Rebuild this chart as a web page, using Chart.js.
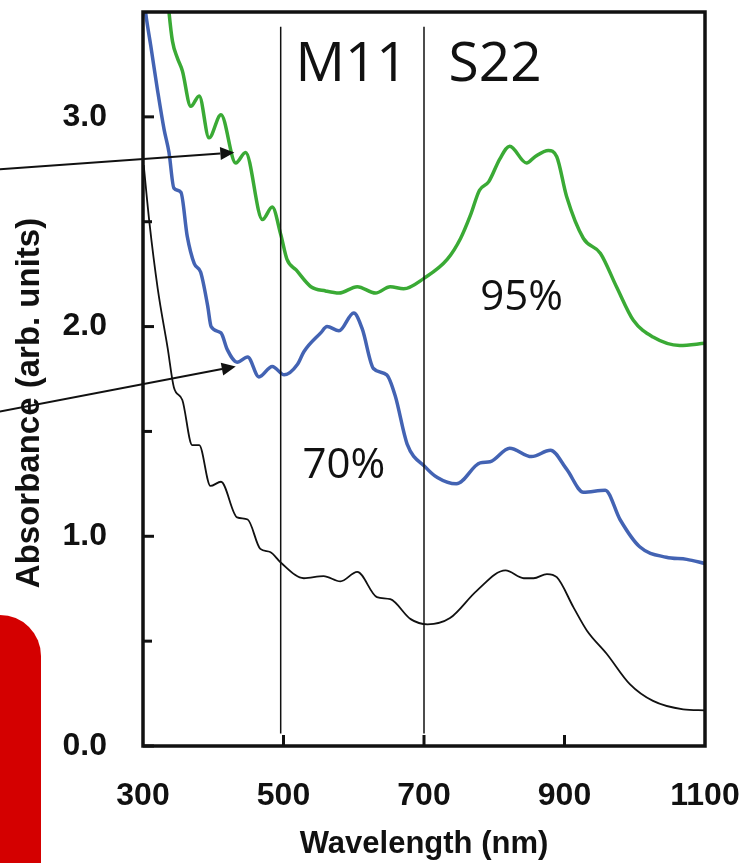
<!DOCTYPE html>
<html>
<head>
<meta charset="utf-8">
<script src="https://cdn.jsdelivr.net/npm/chart.js@4.4.1/dist/chart.umd.min.js"></script>
<style>
  html, body { margin: 0; padding: 0; background: #fff; }
  canvas { display: block; }
</style>
</head>
<body>
<canvas id="abs-chart" width="744" height="863"></canvas>
<script>
// absorbance spectra: wavelength (nm) / absorbance (arb. units)
var nm95  = [335, 337, 342, 349, 356, 368, 380, 394, 411, 432, 446, 470, 484, 496, 505, 518, 539, 560, 579, 605, 631, 652, 671, 700, 733, 752, 766, 779, 792, 808, 822, 846, 858, 877, 889, 903, 927, 951, 974, 998, 1026, 1064, 1100];
var abs95 = [3.58, 3.50, 3.36, 3.28, 3.22, 3.05, 3.10, 2.90, 3.01, 2.78, 2.83, 2.51, 2.57, 2.44, 2.32, 2.27, 2.19, 2.17, 2.16, 2.19, 2.16, 2.19, 2.18, 2.23, 2.32, 2.42, 2.53, 2.65, 2.69, 2.80, 2.86, 2.78, 2.81, 2.84, 2.81, 2.62, 2.42, 2.35, 2.19, 2.03, 1.95, 1.91, 1.92];

var nm70  = [302, 304, 311, 321, 330, 337, 344, 354, 363, 373, 382, 392, 397, 411, 420, 434, 449, 465, 484, 501, 520, 529, 553, 562, 579, 600, 612, 628, 647, 659, 676, 702, 719, 746, 780, 794, 822, 853, 880, 903, 927, 958, 979, 1007, 1045, 1074, 1100];
var abs70 = [3.55, 3.49, 3.34, 3.12, 2.94, 2.83, 2.66, 2.64, 2.43, 2.30, 2.26, 2.10, 2.00, 1.97, 1.89, 1.83, 1.855, 1.76, 1.81, 1.77, 1.82, 1.88, 1.97, 2.00, 1.98, 2.065, 1.99, 1.80, 1.77, 1.67, 1.44, 1.33, 1.28, 1.25, 1.35, 1.355, 1.42, 1.38, 1.41, 1.32, 1.21, 1.22, 1.08, 0.95, 0.90, 0.89, 0.87];

var nmRef  = [301, 309, 321, 335, 344, 356, 370, 380, 396, 411, 434, 449, 467, 481, 496, 529, 557, 581, 605, 633, 652, 681, 705, 737, 775, 816, 842, 856, 875, 889, 913, 932, 960, 993, 1026, 1069, 1100];
var absRef = [2.77, 2.50, 2.18, 1.90, 1.71, 1.65, 1.435, 1.435, 1.24, 1.26, 1.09, 1.08, 0.94, 0.925, 0.875, 0.80, 0.81, 0.785, 0.83, 0.71, 0.70, 0.605, 0.58, 0.61, 0.74, 0.837, 0.80, 0.80, 0.82, 0.805, 0.66, 0.55, 0.44, 0.295, 0.215, 0.175, 0.17];

var xTicks = [300, 500, 700, 900, 1100];
var yTicks = [0, 1, 2, 3];
var yMinorTicks = [0.5, 1.5, 2.5];
var bandEdges = [496, 700];

function pts(xs, ys) {
    return xs.map(function(v, i) { return { x: v, y: ys[i] }; });
}

var tickFont = "'Liberation Sans', Arial, sans-serif";
var noteFont = "'Open Sans', 'Noto Sans', sans-serif";

// annotations of the figure (data coordinates)
var notes = [
    { text: "M11", x: 517, y: 3.17, size: 55 },
    { text: "S22", x: 735, y: 3.17, size: 55 },
    { text: "95%", x: 780, y: 2.08, size: 42 },
    { text: "70%", x: 527, y: 1.28, size: 42 }
];
var arrows = [
    { from: [96, 2.75], to: [430, 2.83] },
    { from: [96, 1.595], to: [432, 1.81] }
];

var overlay = {
    id: "overlay",
    beforeDraw: function(c) {
        var ctx = c.ctx;
        ctx.save();
        ctx.fillStyle = "#d40000";
        ctx.beginPath();
        ctx.roundRect(0, 615, 41, 260, [0, 41, 0, 0]);
        ctx.fill();
        ctx.restore();
    },
    afterDraw: function(c) {
        var ctx = c.ctx, a = c.chartArea, xs = c.scales.x, ys = c.scales.y;
        ctx.save();

        // band edge lines
        ctx.strokeStyle = "#111";
        ctx.lineWidth = 1.5;
        bandEdges.forEach(function(v) {
            var px = xs.getPixelForValue(v);
            ctx.beginPath();
            ctx.moveTo(px, ys.getPixelForValue(3.43));
            ctx.lineTo(px, ys.getPixelForValue(0.06));
            ctx.stroke();
        });

        // frame
        ctx.lineWidth = 3.5;
        ctx.strokeRect(a.left, a.top, a.right - a.left, a.bottom - a.top);

        // inward ticks
        ctx.lineWidth = 3;
        yTicks.forEach(function(v) {
            var py = ys.getPixelForValue(v);
            ctx.beginPath(); ctx.moveTo(a.left, py); ctx.lineTo(a.left + 11, py); ctx.stroke();
        });
        yMinorTicks.forEach(function(v) {
            var py = ys.getPixelForValue(v);
            ctx.beginPath(); ctx.moveTo(a.left, py); ctx.lineTo(a.left + 9, py); ctx.stroke();
        });
        xTicks.slice(1, -1).forEach(function(v) {
            var px = xs.getPixelForValue(v);
            ctx.beginPath(); ctx.moveTo(px, a.bottom); ctx.lineTo(px, a.bottom - 11); ctx.stroke();
        });

        // arrows
        ctx.fillStyle = "#111";
        ctx.lineWidth = 2;
        arrows.forEach(function(ar) {
            var x0 = xs.getPixelForValue(ar.from[0]), y0 = ys.getPixelForValue(ar.from[1]);
            var x1 = xs.getPixelForValue(ar.to[0]), y1 = ys.getPixelForValue(ar.to[1]);
            var ang = Math.atan2(y1 - y0, x1 - x0), len = 14, hw = 6.5;
            ctx.beginPath(); ctx.moveTo(x0, y0);
            ctx.lineTo(x1 - len * Math.cos(ang), y1 - len * Math.sin(ang)); ctx.stroke();
            ctx.beginPath();
            ctx.moveTo(x1, y1);
            ctx.lineTo(x1 - len * Math.cos(ang) + hw * Math.sin(ang), y1 - len * Math.sin(ang) - hw * Math.cos(ang));
            ctx.lineTo(x1 - len * Math.cos(ang) - hw * Math.sin(ang), y1 - len * Math.sin(ang) + hw * Math.cos(ang));
            ctx.closePath(); ctx.fill();
        });

        // text notes
        ctx.textAlign = "left";
        ctx.textBaseline = "alphabetic";
        notes.forEach(function(n) {
            ctx.font = n.size + "px " + noteFont;
            ctx.fillText(n.text, xs.getPixelForValue(n.x), ys.getPixelForValue(n.y));
        });

        // y axis title
        ctx.translate(30, 403);
        ctx.rotate(-Math.PI / 2);
        ctx.font = "bold 33px " + tickFont;
        ctx.textAlign = "center";
        ctx.textBaseline = "middle";
        ctx.fillText("Absorbance (arb. units)", 0, 0);
        ctx.restore();
    }
};

new Chart(document.getElementById("abs-chart").getContext("2d"), {
    type: "line",
    data: {
        datasets: [
            { label: "95%", data: pts(nm95, abs95), borderColor: "#3aaa35", borderWidth: 3.5 },
            { label: "70%", data: pts(nm70, abs70), borderColor: "#4363b3", borderWidth: 3.5 },
            { label: "ref", data: pts(nmRef, absRef), borderColor: "#111", borderWidth: 1.8 }
        ]
    },
    options: {
        responsive: false,
        animation: false,
        layout: { padding: { left: 0, right: 39, top: 12, bottom: 0 } },
        elements: {
            point: { radius: 0 },
            line: { cubicInterpolationMode: "monotone", fill: false }
        },
        plugins: { legend: { display: false }, tooltip: { enabled: false } },
        scales: {
            x: {
                type: "linear", min: 300, max: 1100,
                afterBuildTicks: function(s) { s.ticks = xTicks.map(function(v) { return { value: v }; }); },
                afterFit: function(s) { s.height = 117; s.paddingLeft = 0; s.paddingRight = 0; },
                grid: { display: false }, border: { display: false },
                ticks: { color: "#111", padding: 23, maxRotation: 0, autoSkip: false,
                         callback: function(v) { return String(v); },
                         font: { family: tickFont, size: 32, weight: "bold" } },
                title: { display: true, text: "Wavelength (nm)", color: "#111", padding: { top: 0, bottom: 0 },
                         font: { family: tickFont, size: 31, weight: "bold" } }
            },
            y: {
                min: 0, max: 3.5,
                afterBuildTicks: function(s) { s.ticks = yTicks.map(function(v) { return { value: v }; }); },
                afterFit: function(s) { s.width = 143; s.paddingTop = 0; s.paddingBottom = 0; },
                grid: { display: false }, border: { display: false },
                ticks: { color: "#111", padding: 28,
                         callback: function(v) { return v.toFixed(1); },
                         font: { family: tickFont, size: 32, weight: "bold" } }
            }
        }
    },
    plugins: [overlay]
});
</script>
</body>
</html>
